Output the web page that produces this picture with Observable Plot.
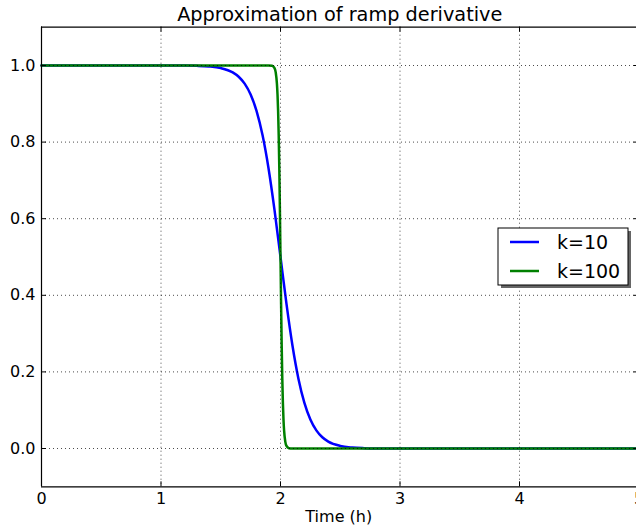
<!DOCTYPE html>
<html><head><meta charset="utf-8">
<script src="https://cdn.jsdelivr.net/npm/d3@7"></script>
<script src="https://cdn.jsdelivr.net/npm/@observablehq/plot@0.6"></script>
<style>body{margin:0;background:#fff} svg{display:block}</style>
</head><body><div id="chart"></div>
<script>
// Values
const tK10 = [0, 0.5, 1.0, 1.2, 1.3, 1.4, 1.5, 1.6, 1.65, 1.7, 1.75, 1.8, 1.85, 1.9, 1.95, 2.0, 2.05, 2.1, 2.15, 2.2, 2.25, 2.3, 2.35, 2.4, 2.5, 2.6, 2.7, 2.8, 3.0, 4.0, 5.0];
const vK10 = [1.0, 1.0, 1.0, 0.9997, 0.9991, 0.9975, 0.9933, 0.982, 0.9707, 0.9526, 0.9241, 0.8808, 0.8176, 0.7311, 0.6225, 0.5, 0.3775, 0.2689, 0.1824, 0.1192, 0.0759, 0.0474, 0.0293, 0.018, 0.0067, 0.0025, 0.0009, 0.0003, 0.0, 0.0, 0.0];
const tK100 = [0, 1.0, 1.9, 1.93, 1.95, 1.96, 1.97, 1.975, 1.98, 1.985, 1.99, 1.995, 2.0, 2.005, 2.01, 2.015, 2.02, 2.025, 2.03, 2.04, 2.05, 2.07, 2.1, 3.0, 5.0];
const vK100 = [1.0, 1.0, 1.0, 0.9991, 0.9933, 0.982, 0.9526, 0.9241, 0.8808, 0.8176, 0.7311, 0.6225, 0.5, 0.3775, 0.2689, 0.1824, 0.1192, 0.0759, 0.0474, 0.018, 0.0067, 0.0009, 0.0, 0.0, 0.0];
const seriesNames = ["k=10", "k=100"];
const seriesColors = ["#0000ff", "#008000"];
const xTicks = [0, 1, 2, 3, 4, 5];
const yTicks = [0.0, 0.2, 0.4, 0.6, 0.8, 1.0];
const xDomain = [0, 5];
const yDomain = [-0.1, 1.1];
const titleText = "Approximation of ramp derivative";
const xLabelText = "Time (h)";

const data = [
  ...tK10.map((t, i) => ({t, v: vK10[i], s: seriesNames[0]})),
  ...tK100.map((t, i) => ({t, v: vK100[i], s: seriesNames[1]}))
];

const W = 636, H = 527, mL = 41, mR = -2.5, mT = 26.7, mB = 40.7;
const font = "DejaVu Sans";
const grid = {stroke: "#000", strokeOpacity: 0.7, strokeDasharray: "1,3", strokeWidth: 1};
const tick = {stroke: "#000", strokeWidth: 1};

const chart = Plot.plot({
  width: W, height: H,
  marginLeft: mL, marginRight: mR, marginTop: mT, marginBottom: mB,
  style: {fontFamily: font, fontSize: "16px", color: "#000", background: "#fff", overflow: "hidden"},
  x: {domain: xDomain, range: [mL, W - mR]},
  y: {domain: yDomain, range: [H - mB, mT]},
  color: {domain: seriesNames, range: seriesColors},
  marks: [
    Plot.line(data, {x: "t", y: "v", z: "s", stroke: "s", strokeWidth: 2.5, curve: "monotone-x"}),
    Plot.ruleX(xTicks, grid),
    Plot.ruleY(yTicks, grid),
    // inward ticks
    Plot.ruleX(xTicks, {x: d => d, y1: yDomain[0], y2: yDomain[0], insetTop: -5, ...tick}),
    Plot.ruleX(xTicks, {x: d => d, y1: yDomain[1], y2: yDomain[1], insetBottom: -5, ...tick}),
    Plot.ruleY(yTicks, {y: d => d, x1: xDomain[0], x2: xDomain[0], insetRight: -5, ...tick}),
    Plot.ruleY(yTicks, {y: d => d, x1: xDomain[1], x2: xDomain[1], insetLeft: -5, ...tick}),
    // spines
    Plot.ruleX(xDomain, {stroke: "#000", strokeWidth: 1.2}),
    Plot.ruleY(yDomain, {stroke: "#000", strokeWidth: 1.2}),
    Plot.axisX({ticks: xTicks, tickSize: 0, tickPadding: 6, tickFormat: d => String(d), label: null, fontSize: 16}),
    Plot.axisY({ticks: yTicks, tickSize: 0, tickPadding: 6, tickFormat: d => d.toFixed(1), label: null, fontSize: 16})
  ]
});

document.getElementById("chart").appendChild(chart);
const svg = d3.select(chart);
const cx = (mL + W - mR) / 2;

svg.append("text").attr("x", cx).attr("y", 20.5).attr("text-anchor", "middle")
  .attr("font-family", font).attr("font-size", 19.3).attr("fill", "#000").text(titleText);
svg.append("text").attr("x", cx - 1).attr("y", 521.5).attr("text-anchor", "middle")
  .attr("font-family", font).attr("font-size", 16).attr("fill", "#000").text(xLabelText);

// legend
const lg = svg.append("g");
const bx = 498, by = 228, bw = 130, bh = 57;
lg.append("rect").attr("x", bx + 3).attr("y", by + 3).attr("width", bw).attr("height", bh).attr("fill", "#666");
lg.append("rect").attr("x", bx).attr("y", by).attr("width", bw).attr("height", bh).attr("fill", "#fff").attr("stroke", "#000").attr("stroke-width", 1);
seriesNames.forEach((n, i) => {
  const yy = 242 + i * 29;
  lg.append("line").attr("x1", 510).attr("x2", 539).attr("y1", yy).attr("y2", yy)
    .attr("stroke", seriesColors[i]).attr("stroke-width", 2.5);
  lg.append("text").attr("x", 557).attr("y", yy).attr("dy", "0.36em").attr("text-anchor", "start")
    .attr("font-family", font).attr("font-size", 19).attr("fill", "#000").text(n);
});
</script>
</body></html>
